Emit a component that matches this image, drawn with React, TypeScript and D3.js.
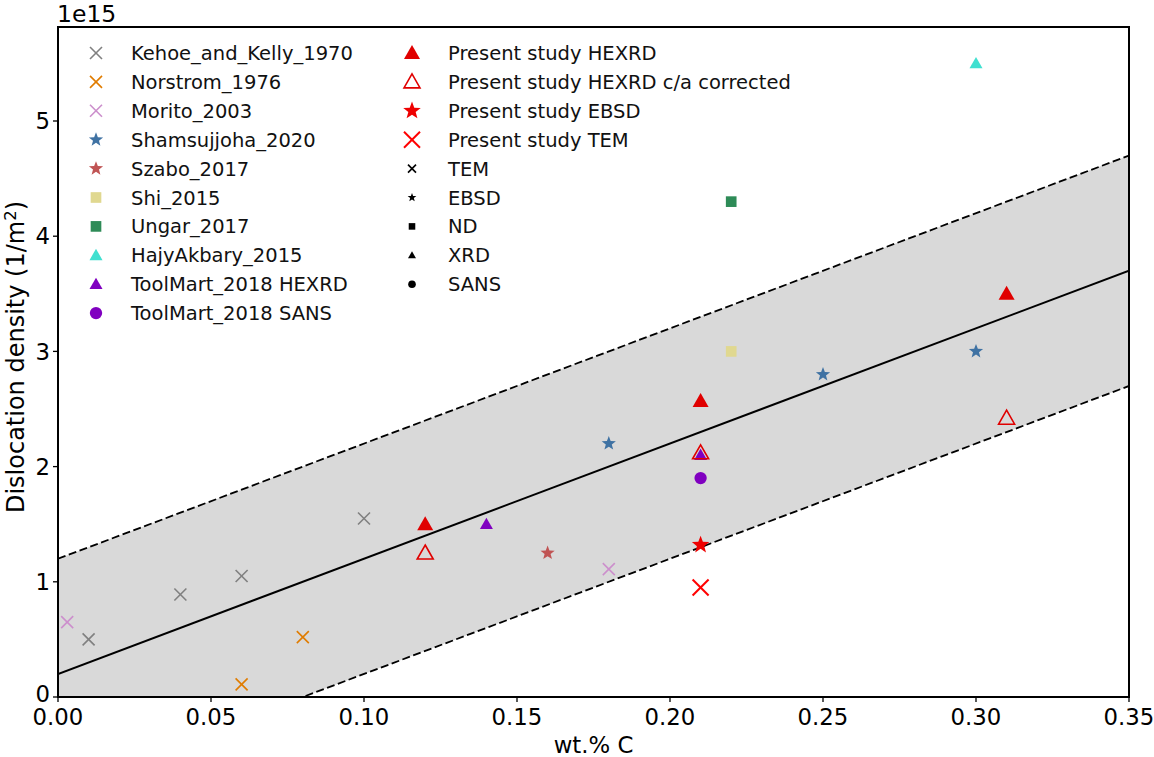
import React from "react";
import * as d3 from "d3";

const kehoeX = [0.01, 0.04, 0.06, 0.10];
const kehoeY = [0.5, 0.89, 1.05, 1.55];
const norstromX = [0.06, 0.08];
const norstromY = [0.11, 0.52];
const moritoX = [0.003, 0.18];
const moritoY = [0.65, 1.11];
const shamsX = [0.18, 0.25, 0.30];
const shamsY = [2.2, 2.8, 3.0];
const szaboX = [0.16];
const szaboY = [1.25];
const shiX = [0.22];
const shiY = [3.0];
const ungarX = [0.22];
const ungarY = [4.3];
const hajyX = [0.30];
const hajyY = [5.5];
const toolHexX = [0.14, 0.21];
const toolHexY = [1.5, 2.1];
const toolSansX = [0.21];
const toolSansY = [1.9];
const presHexX = [0.12, 0.21, 0.31];
const presHexY = [1.5, 2.57, 3.5];
const presCorrX = [0.12, 0.21, 0.31];
const presCorrY = [1.25, 2.12, 2.42];
const presEbsdX = [0.21];
const presEbsdY = [1.32];
const presTemX = [0.21];
const presTemY = [0.95];

const fitSlope = 10;
const fitIntercept = 0.2;
const bandHalf = 1.0;

const xTicks = [0, 0.05, 0.1, 0.15, 0.2, 0.25, 0.3, 0.35];
const yTicks = [0, 1, 2, 3, 4, 5];

type Shape = "x" | "star" | "square" | "tri" | "circle";
interface Series {
  label: string;
  xs: number[];
  ys: number[];
  shape: Shape;
  color: string;
  size: number;
  open?: boolean;
}

const series: Series[] = [
  { label: "Kehoe_and_Kelly_1970", xs: kehoeX, ys: kehoeY, shape: "x", color: "#808080", size: 12 },
  { label: "Norstrom_1976", xs: norstromX, ys: norstromY, shape: "x", color: "#e07c00", size: 12 },
  { label: "Morito_2003", xs: moritoX, ys: moritoY, shape: "x", color: "#cc8fcc", size: 12 },
  { label: "Shamsujjoha_2020", xs: shamsX, ys: shamsY, shape: "star", color: "#3f72a3", size: 13 },
  { label: "Szabo_2017", xs: szaboX, ys: szaboY, shape: "star", color: "#c05454", size: 13 },
  { label: "Shi_2015", xs: shiX, ys: shiY, shape: "square", color: "#e0d890", size: 13 },
  { label: "Ungar_2017", xs: ungarX, ys: ungarY, shape: "square", color: "#2e8b57", size: 13 },
  { label: "HajyAkbary_2015", xs: hajyX, ys: hajyY, shape: "tri", color: "#40e0d0", size: 13 },
  { label: "ToolMart_2018 HEXRD", xs: toolHexX, ys: toolHexY, shape: "tri", color: "#8000c0", size: 13 },
  { label: "ToolMart_2018 SANS", xs: toolSansX, ys: toolSansY, shape: "circle", color: "#8000c0", size: 13 },
  { label: "Present study HEXRD", xs: presHexX, ys: presHexY, shape: "tri", color: "#e00000", size: 16 },
  { label: "Present study HEXRD c/a corrected", xs: presCorrX, ys: presCorrY, shape: "tri", color: "#e00000", size: 16, open: true },
  { label: "Present study EBSD", xs: presEbsdX, ys: presEbsdY, shape: "star", color: "#ee0000", size: 16 },
  { label: "Present study TEM", xs: presTemX, ys: presTemY, shape: "x", color: "#ff0000", size: 16 },
];

const keyLegend: { label: string; shape: Shape }[] = [
  { label: "TEM", shape: "x" },
  { label: "EBSD", shape: "star" },
  { label: "ND", shape: "square" },
  { label: "XRD", shape: "tri" },
  { label: "SANS", shape: "circle" },
];

function starPath(r: number): string {
  const pts: string[] = [];
  const inner = r * 0.42;
  for (let i = 0; i < 10; i++) {
    const rr = i % 2 === 0 ? r : inner;
    const a = -Math.PI / 2 + (i * Math.PI) / 5;
    pts.push(`${(rr * Math.cos(a)).toFixed(2)},${(rr * Math.sin(a)).toFixed(2)}`);
  }
  return "M" + pts.join("L") + "Z";
}

function Marker({ shape, cx, cy, size, color, open }: { shape: Shape; cx: number; cy: number; size: number; color: string; open?: boolean }) {
  const h = size / 2;
  const t = `translate(${cx},${cy})`;
  if (shape === "x") {
    return (
      <g transform={t} stroke={color} strokeWidth={size >= 15 ? 2 : 1.6}>
        <line x1={-h} y1={-h} x2={h} y2={h} />
        <line x1={-h} y1={h} x2={h} y2={-h} />
      </g>
    );
  }
  if (shape === "star") {
    return <path transform={t} d={starPath(h * 1.15)} fill={color} />;
  }
  if (shape === "square") {
    const s = size * 0.82;
    return <rect x={cx - s / 2} y={cy - s / 2} width={s} height={s} fill={color} />;
  }
  if (shape === "tri") {
    const w = h * 1.0;
    const d = `M0,${-h}L${w},${h * 0.75}L${-w},${h * 0.75}Z`;
    return open ? (
      <path transform={t} d={d} fill="none" stroke={color} strokeWidth={1.6} />
    ) : (
      <path transform={t} d={d} fill={color} />
    );
  }
  return <circle cx={cx} cy={cy} r={h * 0.95} fill={color} />;
}

export default function App() {
  const W = 1154, H = 757;
  const L = 58, R = 1129, T = 27, B = 697;
  const x = d3.scaleLinear().domain([0, 0.35]).range([L, R]);
  const y = d3.scaleLinear().domain([0, 5.816]).range([B, T]);

  const xs = [0, 0.35];
  const upper = xs.map((v) => [v, fitSlope * v + fitIntercept + bandHalf] as [number, number]);
  const lower = xs.map((v) => [v, fitSlope * v + fitIntercept - bandHalf] as [number, number]);
  const bandArea = d3
    .area<number>()
    .x((v) => x(v))
    .y0((v) => y(fitSlope * v + fitIntercept - bandHalf))
    .y1((v) => y(fitSlope * v + fitIntercept + bandHalf));
  const line = d3.line<[number, number]>().x((d) => x(d[0])).y((d) => y(d[1]));
  const fit = xs.map((v) => [v, fitSlope * v + fitIntercept] as [number, number]);

  const font = "DejaVu Sans, sans-serif";
  const rowH = 28.9;
  const legFs = 19.5;
  const axFs = 22.8;

  return (
    <svg width={W} height={H} style={{ position: "absolute", left: 0, top: 0 }} fontFamily={font}>
      <rect width={W} height={H} fill="white" />
      <defs>
        <clipPath id="plotclip">
          <rect x={L} y={T} width={R - L} height={B - T} />
        </clipPath>
      </defs>
      <g clipPath="url(#plotclip)">
        <path d={bandArea(xs) || ""} fill="#d9d9d9" />
        <path d={line(upper) || ""} fill="none" stroke="black" strokeWidth={1.8} strokeDasharray="8,3.5" />
        <path d={line(lower) || ""} fill="none" stroke="black" strokeWidth={1.8} strokeDasharray="8,3.5" />
        <path d={line(fit) || ""} fill="none" stroke="black" strokeWidth={2} />
        {series.map((s, si) =>
          s.xs.map((xv, i) => (
            <Marker key={`${si}-${i}`} shape={s.shape} cx={x(xv)} cy={y(s.ys[i])} size={s.size} color={s.color} open={s.open} />
          ))
        )}
      </g>
      {series.slice(0, 10).map((s, i) => (
        <g key={`l1-${i}`}>
          <Marker shape={s.shape} cx={96} cy={53 + i * rowH} size={s.size} color={s.color} open={s.open} />
          <text x={131} y={53 + i * rowH} dy="0.36em" fontSize={legFs} fill="#111">
            {s.label}
          </text>
        </g>
      ))}
      {series.slice(10).map((s, i) => (
        <g key={`l2-${i}`}>
          <Marker shape={s.shape} cx={412} cy={53 + i * rowH} size={s.size} color={s.color} open={s.open} />
          <text x={448} y={53 + i * rowH} dy="0.36em" fontSize={legFs} fill="#111">
            {s.label}
          </text>
        </g>
      ))}
      {keyLegend.map((k, i) => (
        <g key={`k-${i}`}>
          <Marker shape={k.shape} cx={412} cy={53 + (i + 4) * rowH} size={8} color="black" />
          <text x={448} y={53 + (i + 4) * rowH} dy="0.36em" fontSize={legFs} fill="#111">
            {k.label}
          </text>
        </g>
      ))}
      <rect x={L} y={T} width={R - L} height={B - T} fill="none" stroke="black" strokeWidth={2} />
      {xTicks.map((t) => (
        <g key={`xt${t}`}>
          <line x1={x(t)} x2={x(t)} y1={B} y2={B + 5} stroke="black" strokeWidth={1.3} />
          <text x={x(t)} y={725} textAnchor="middle" fontSize={axFs}>
            {t.toFixed(2)}
          </text>
        </g>
      ))}
      {yTicks.map((t) => (
        <g key={`yt${t}`}>
          <line x1={L - 5} x2={L} y1={y(t)} y2={y(t)} stroke="black" strokeWidth={1.3} />
          <text x={L - 8} y={y(t) - (t === 0 ? 3 : 0)} dy="0.36em" textAnchor="end" fontSize={axFs}>
            {t}
          </text>
        </g>
      ))}
      <text x={57} y={22} fontSize={23.5}>1e15</text>
      <text x={(L + R) / 2} y={753} textAnchor="middle" fontSize={axFs}>wt.% C</text>
      <text transform={`translate(24,357) rotate(-90)`} textAnchor="middle" fontSize={24}>
        Dislocation density (1/m<tspan dy="-8" fontSize={16.5}>2</tspan><tspan dy="8">)</tspan>
      </text>
    </svg>
  );
}
